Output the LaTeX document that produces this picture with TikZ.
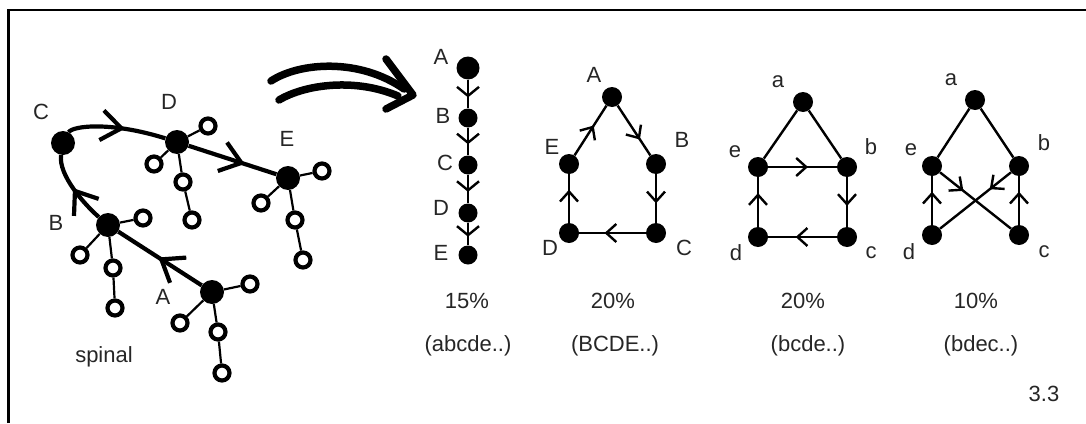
\documentclass[tikz,border=0pt]{standalone}
\usepackage{fontspec}
\setmainfont{Liberation Sans}
\usetikzlibrary{arrows.meta,decorations.markings}
\begin{document}
\begin{tikzpicture}[x=1pt,y=-1pt,
  bigdot/.style={circle,fill=black,inner sep=0pt,minimum size=24pt},
  gdot/.style={circle,fill=black,inner sep=0pt,minimum size=20pt},
  ring/.style={circle,draw=black,line width=4.2pt,fill=white,inner sep=0pt,minimum size=15pt},
  lbl/.style={font=\fontsize{22}{25}\selectfont,inner sep=0pt,text=black!85},
  spine/.style={line width=4.2pt},
  twig/.style={line width=2.2pt},
  gedge/.style={line width=2.4pt},
  spmark/.style={postaction={decorate},decoration={markings,mark=at position #1 with {\arrow{Straight Barb[length=20pt,width=30pt]}}}},
  gmark/.style={postaction={decorate},decoration={markings,mark=at position #1 with {\arrow{Straight Barb[length=10pt,width=18pt]}}}},
  cmark/.style={postaction={decorate},decoration={markings,mark=at position #1 with {\arrow{Straight Barb[length=9pt,width=22pt]}}}},
]
\useasboundingbox (0,0) rectangle (1086,423);
% frame
\draw[line width=2.6pt] (8.5,423) -- (8.5,10) -- (1086,10);

% ---------- spinal tree ----------
\node[bigdot] (sA) at (212,292) {};
\node[bigdot] (sB) at (108,225) {};
\node[bigdot] (sC) at (63,143) {};
\node[bigdot] (sD) at (177,142) {};
\node[bigdot] (sE) at (288,178) {};

\node[ring] (dr1) at (208,126) {};
\node[ring] (dr2) at (154,164) {};
\node[ring] (dr3) at (183,182) {};
\node[ring] (dr4) at (192,220) {};
\node[ring] (er1) at (322,171) {};
\node[ring] (er2) at (261,203) {};
\node[ring] (er3) at (295,220) {};
\node[ring] (er4) at (303,260) {};
\node[ring] (br1) at (143,218) {};
\node[ring] (br2) at (80,255) {};
\node[ring] (br3) at (113,268) {};
\node[ring] (br4) at (115,308) {};
\node[ring] (ar1) at (250,284) {};
\node[ring] (ar2) at (180,323) {};
\node[ring] (ar3) at (218,332) {};
\node[ring] (ar4) at (222,373) {};

\draw[twig] (sD) -- (dr1); \draw[twig] (sD) -- (dr2);
\draw[twig] (sD) -- (dr3); \draw[twig] (dr3) -- (dr4);
\draw[twig] (sE) -- (er1); \draw[twig] (sE) -- (er2);
\draw[twig] (sE) -- (er3); \draw[twig] (er3) -- (er4);
\draw[twig] (sB) -- (br1); \draw[twig] (sB) -- (br2);
\draw[twig] (sB) -- (br3); \draw[twig] (br3) -- (br4);
\draw[twig] (sA) -- (ar1); \draw[twig] (sA) -- (ar2);
\draw[twig] (sA) -- (ar3); \draw[twig] (ar3) -- (ar4);

\draw[spine,spmark=0.52] (sA) -- (sB);
\draw[spine,spmark=0.52] (sB) .. controls (85,205) and (58,175) .. (sC);
\draw[spine,spmark=0.58] (sC) .. controls (72,126) and (110,121) .. (sD);
\draw[spine,spmark=0.64] (sD) -- (sE);

\node[lbl] (lsC) at (41,112) {C};
\node[lbl] (lsD) at (169,102) {D};
\node[lbl] (lsE) at (287,139) {E};
\node[lbl] (lsB) at (56,223) {B};
\node[lbl] (lsA) at (163,297) {A};
\node[lbl] (lsp) at (104,357) {spinal};

% ---------- big arrow ----------
\draw[line width=7.5pt,line cap=round] (271,81) .. controls (300,62) and (360,58) .. (404,89);
\draw[line width=7.5pt,line cap=round] (279,100) .. controls (306,84) and (356,78) .. (398,96);
\draw[line width=7.5pt,line cap=round,line join=round] (386,59) -- (413,95) -- (386,109);

% ---------- chain ----------
\node[circle,fill=black,inner sep=0pt,minimum size=23pt] (cA) at (468,68) {};
\node[circle,fill=black,inner sep=0pt,minimum size=19pt] (cB) at (468,118) {};
\node[circle,fill=black,inner sep=0pt,minimum size=19pt] (cC) at (468,165) {};
\node[circle,fill=black,inner sep=0pt,minimum size=19pt] (cD) at (468,213) {};
\node[circle,fill=black,inner sep=0pt,minimum size=19pt] (cE) at (468,255) {};
\draw[gedge,cmark=0.62] (cA) -- (cB);
\draw[gedge,cmark=0.6] (cB) -- (cC);
\draw[gedge,cmark=0.6] (cC) -- (cD);
\draw[gedge,cmark=0.62] (cD) -- (cE);
\node[lbl] (lcA) at (441,57) {A};
\node[lbl] (lcB) at (443,116) {B};
\node[lbl] (lcC) at (445,163) {C};
\node[lbl] (lcD) at (441,208) {D};
\node[lbl] (lcE) at (441,253) {E};

% ---------- graph 1 ----------
\node[gdot] (gA) at (612,97) {};
\node[gdot] (gB) at (656,164) {};
\node[gdot] (gC) at (656,233) {};
\node[gdot] (gD) at (569,233) {};
\node[gdot] (gE) at (569,164) {};
\draw[gedge,gmark=0.68] (gA) -- (gB);
\draw[gedge,gmark=0.6] (gB) -- (gC);
\draw[gedge,gmark=0.62] (gC) -- (gD);
\draw[gedge,gmark=0.68] (gD) -- (gE);
\draw[gedge,gmark=0.6] (gE) -- (gA);
\node[lbl] (lgA) at (594,75) {A};
\node[lbl] (lgE) at (552,147) {E};
\node[lbl] (lgB) at (682,140) {B};
\node[lbl] (lgD) at (550,248) {D};
\node[lbl] (lgC) at (684,248) {C};

% ---------- graph 2 ----------
\node[gdot] (hA) at (803,102) {};
\node[gdot] (hB) at (847,167) {};
\node[gdot] (hC) at (847,237) {};
\node[gdot] (hD) at (758,237) {};
\node[gdot] (hE) at (758,167) {};
\draw[gedge] (hA) -- (hE);
\draw[gedge] (hA) -- (hB);
\draw[gedge,gmark=0.58] (hE) -- (hB);
\draw[gedge,gmark=0.58] (hB) -- (hC);
\draw[gedge,gmark=0.6] (hC) -- (hD);
\draw[gedge,gmark=0.68] (hD) -- (hE);
\node[lbl] (lhA) at (778,82) {a};
\node[lbl] (lhE) at (735,152) {e};
\node[lbl] (lhB) at (871,147) {b};
\node[lbl] (lhD) at (736,253) {d};
\node[lbl] (lhC) at (871,253) {c};

% ---------- graph 3 ----------
\node[gdot] (kA) at (975,100) {};
\node[gdot] (kB) at (1019,166) {};
\node[gdot] (kC) at (1019,235) {};
\node[gdot] (kD) at (932,235) {};
\node[gdot] (kE) at (932,166) {};
\draw[gedge] (kA) -- (kE);
\draw[gedge] (kA) -- (kB);
\draw[gedge,gmark=0.33] (kE) -- (kC);
\draw[gedge,gmark=0.3] (kB) -- (kD);
\draw[gedge,gmark=0.68] (kD) -- (kE);
\draw[gedge,gmark=0.68] (kC) -- (kB);
\node[lbl] (lkA) at (951,80) {a};
\node[lbl] (lkE) at (911,150) {e};
\node[lbl] (lkB) at (1044,143) {b};
\node[lbl] (lkD) at (909,252) {d};
\node[lbl] (lkC) at (1044,252) {c};

% ---------- captions ----------
\node[lbl] (p1) at (467,301) {15\%};
\node[lbl] (t1) at (468,346) {(abcde..)};
\node[lbl] (p2) at (613,301) {20\%};
\node[lbl] (t2) at (615,346) {(BCDE..)};
\node[lbl] (p3) at (803,301) {20\%};
\node[lbl] (t3) at (808,346) {(bcde..)};
\node[lbl] (p4) at (976,301) {10\%};
\node[lbl] (t4) at (981,346) {(bdec..)};
\node[lbl] (num) at (1044,394) {3.3};
\end{tikzpicture}
\end{document}
